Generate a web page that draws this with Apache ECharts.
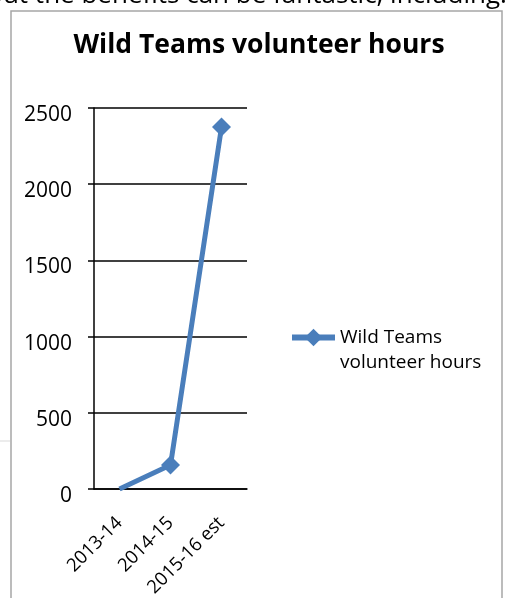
<!DOCTYPE html>
<html>
<head>
    <meta charset="utf-8" />
    <title>Wild Teams volunteer hours</title>
    <script src="https://cdn.jsdelivr.net/npm/echarts@6/dist/echarts.min.js"></script>
    <style>
        html, body { margin: 0; padding: 0; background: #fff; }
    </style>
</head>
<body>
    <div id="EChart" style="width:505px; height:598px;"></div>
    <script type="text/javascript">
        // data
        var categories = ['2013-14', '2014-15', '2015-16 est'];
        var hours = [0, 157, 2375];
        var yTicks = [0, 500, 1000, 1500, 2000, 2500];
        var seriesName = 'Wild Teams volunteer hours';

        var font = '"Open Sans", "Noto Sans", sans-serif';
        var blue = '#4a7ebb';

        var seriesData = hours.map(function (v, i) {
            // first point has no visible marker in the reference
            return i === 0 ? { value: v, symbolSize: 0 } : v;
        });

        var myChart = echarts.init(document.getElementById('EChart'));
        var option = {
            animation: false,
            title: {
                text: seriesName,
                left: 254,
                top: 27,
                textAlign: 'center',
                textStyle: { fontFamily: font, fontWeight: 'bold', fontSize: 26.5, color: '#000' }
            },
            legend: {
                data: [seriesName],
                left: 289,
                top: 300,
                padding: 0,
                itemWidth: 43,
                itemHeight: 22,
                itemGap: 5,
                lineStyle: { width: 6 },
                // blank first line keeps the icon level with "Wild Teams"
                formatter: function () { return ' \nWild Teams\nvolunteer hours'; },
                textStyle: { fontFamily: font, fontSize: 19, color: '#000', lineHeight: 25 }
            },
            grid: { left: 94, right: 258, top: 108, bottom: 109, outerBoundsMode: 'none' },
            xAxis: {
                type: 'category',
                data: categories,
                axisLine: { lineStyle: { color: '#000', width: 1.5 } },
                axisTick: { length: 6, lineStyle: { color: '#000', width: 1.5 } },
                axisLabel: { rotate: 45, fontFamily: font, fontSize: 18.5, color: '#000', margin: 31 }
            },
            yAxis: {
                type: 'value',
                min: yTicks[0],
                max: yTicks[yTicks.length - 1],
                interval: 500,
                axisLine: { show: true, lineStyle: { color: '#000', width: 1.5 } },
                axisTick: { show: true, length: 6, lineStyle: { color: '#000', width: 1.5 } },
                splitLine: { lineStyle: { color: '#000', width: 1.5 } },
                axisLabel: {
                    fontFamily: font, fontSize: 21, color: '#000', margin: 22,
                    verticalAlign: 'top', lineHeight: 14,
                    formatter: function (v) { return String(v); }
                }
            },
            graphic: [
                // frame of the embedded chart
                { type: 'rect', shape: { x: 11, y: 11, width: 491, height: 600 },
                  style: { fill: 'none', stroke: '#a6a6a6', lineWidth: 1.5 } },
                { type: 'line', shape: { x1: 0, y1: 441, x2: 10, y2: 441 },
                  style: { stroke: '#d9d9d9', lineWidth: 1 } },
                // cut-off page text above the chart
                { type: 'text', left: -13, top: -17,
                  style: { text: 'but the benefits can be fantastic, including:', fontFamily: font, fontSize: 26, fill: '#000' } }
            ],
            series: [{
                name: seriesName,
                type: 'line',
                data: seriesData,
                symbol: 'diamond',
                symbolSize: 19,
                showAllSymbol: true,
                lineStyle: { color: blue, width: 5 },
                itemStyle: { color: blue }
            }]
        };
        myChart.setOption(option);
    </script>
</body>
</html>
